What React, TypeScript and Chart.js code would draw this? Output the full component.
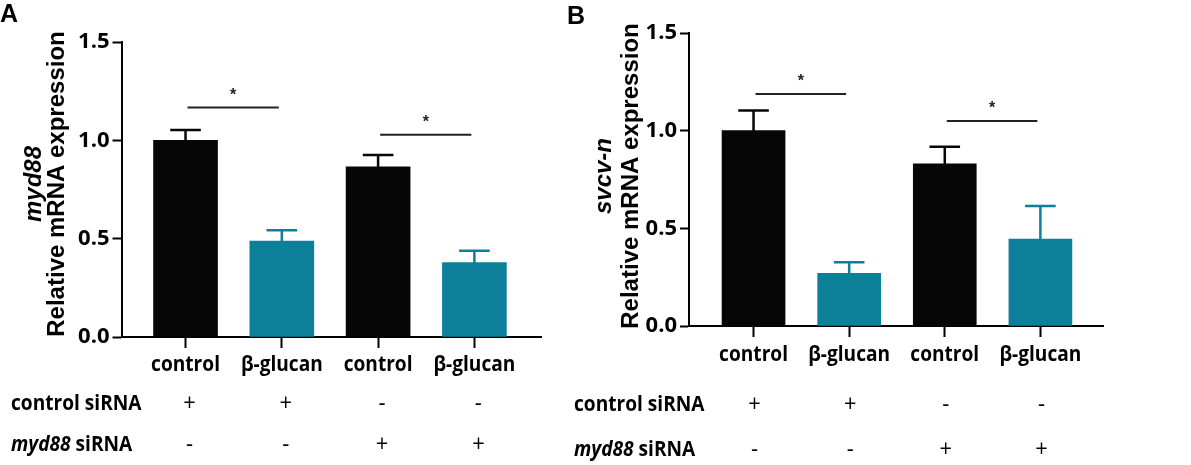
import React, { useEffect, useRef } from 'react';
import { Chart, registerables } from 'chart.js';

Chart.register(...registerables);

// shared labels
const categories = ['control', 'β-glucan', 'control', 'β-glucan'];
const controlSiRNA = ['+', '+', '-', '-'];
const myd88SiRNA = ['-', '-', '+', '+'];
const yTicks = [0, 0.5, 1.0, 1.5];
const barColors = ['#060606', '#0d8099', '#060606', '#0d8099'];

// panel A: myd88
const myd88Means = [1.0, 0.488, 0.865, 0.379];
const myd88Errors = [0.052, 0.055, 0.06, 0.06];
const myd88Sig = [[0, 1, 1.167], [2, 3, 1.029]];

// panel B: svcv-n
const svcvMeans = [1.0, 0.27, 0.83, 0.445];
const svcvErrors = [0.103, 0.056, 0.088, 0.169];
const svcvSig = [[0, 1, 1.188], [2, 3, 1.05]];

type PanelProps = {
  letter: string;
  gene: string;
  means: number[];
  errors: number[];
  sig: number[][];
  width: number;
  yAxisWidth: number;
  padTop: number;
  padRight: number;
  xAxisHeight: number;
  xMin: number;
  xMax: number;
  barThickness: number;
  titleOffset: number;
  geneOffset: number;
  titleY: number;
  catY: number;
  row1Y: number;
  row2Y: number;
  rowLabelX: number;
  symOffset: number;
  letterX: number;
  letterY: number;
};

const LABEL_FONT = '"Open Sans", Lato, sans-serif';
const TITLE_FONT = '"Liberation Sans", Arial, sans-serif';
const SQUEEZE = 0.91; // the figure is slightly narrower than tall

// draws text horizontally squeezed around its anchor
const squeezedText = (ctx: CanvasRenderingContext2D, text: string, x: number, y: number) => {
  ctx.save();
  ctx.translate(x, y);
  ctx.scale(SQUEEZE, 1);
  ctx.fillText(text, 0, 0);
  ctx.restore();
};

const Panel: React.FC<PanelProps> = (p) => {
  const canvasRef = useRef<HTMLCanvasElement>(null);

  useEffect(() => {
    if (!canvasRef.current) return;

    const overlay = {
      id: 'overlay',
      afterDatasetsDraw(chart: any) {
        const { ctx, scales } = chart;
        const x = scales.x;
        const y = scales.y;
        ctx.save();
        // error bars (upper only)
        p.means.forEach((m, i) => {
          const cx = x.getPixelForValue(i);
          const y0 = y.getPixelForValue(m);
          const y1 = y.getPixelForValue(m + p.errors[i]);
          ctx.strokeStyle = barColors[i];
          ctx.lineWidth = 2.5;
          ctx.beginPath();
          ctx.moveTo(cx, y0 + 2);
          ctx.lineTo(cx, y1);
          ctx.moveTo(cx - 15.3, y1);
          ctx.lineTo(cx + 15.3, y1);
          ctx.stroke();
        });
        // significance lines
        p.sig.forEach(([a, b, v]) => {
          const xa = x.getPixelForValue(a) + 2;
          const xb = x.getPixelForValue(b) - 3;
          const ly = y.getPixelForValue(v);
          ctx.strokeStyle = '#222';
          ctx.lineWidth = 2;
          ctx.beginPath();
          ctx.moveTo(xa, ly);
          ctx.lineTo(xb, ly);
          ctx.stroke();
          ctx.fillStyle = '#222';
          ctx.font = `bold 16px ${TITLE_FONT}`;
          ctx.textAlign = 'center';
          ctx.textBaseline = 'middle';
          ctx.fillText('*', (xa + xb) / 2, ly - 12);
        });
        ctx.restore();
      },
      afterDraw(chart: any) {
        const { ctx, chartArea, scales } = chart;
        const x = scales.x;
        ctx.save();
        ctx.fillStyle = '#000';

        // panel letter
        ctx.font = `bold 25px ${TITLE_FONT}`;
        ctx.textAlign = 'left';
        ctx.textBaseline = 'top';
        ctx.fillText(p.letter, p.letterX, p.letterY);

        // rotated y title
        ctx.save();
        ctx.translate(chartArea.left - p.titleOffset, p.titleY);
        ctx.rotate(-Math.PI / 2);
        ctx.textAlign = 'center';
        ctx.textBaseline = 'alphabetic';
        ctx.font = `bold 24px ${TITLE_FONT}`;
        ctx.fillText('Relative mRNA expression', 0, 0);
        ctx.restore();

        ctx.save();
        ctx.translate(chartArea.left - p.geneOffset, p.titleY);
        ctx.rotate(-Math.PI / 2);
        ctx.textAlign = 'center';
        ctx.textBaseline = 'alphabetic';
        ctx.font = `italic bold 24px ${TITLE_FONT}`;
        ctx.fillText(p.gene, 0, 0);
        ctx.restore();

        // category labels
        ctx.textBaseline = 'middle';
        ctx.textAlign = 'center';
        ctx.font = `bold 21px ${LABEL_FONT}`;
        categories.forEach((c, i) => {
          squeezedText(ctx, c, x.getPixelForValue(i), p.catY);
        });

        // treatment rows
        ctx.textAlign = 'left';
        ctx.font = `bold 21px ${LABEL_FONT}`;
        squeezedText(ctx, 'control siRNA', p.rowLabelX, p.row1Y);
        ctx.font = `italic bold 21px ${LABEL_FONT}`;
        squeezedText(ctx, 'myd88', p.rowLabelX, p.row2Y);
        const w = ctx.measureText('myd88').width * SQUEEZE;
        ctx.font = `bold 21px ${LABEL_FONT}`;
        squeezedText(ctx, ' siRNA', p.rowLabelX + w, p.row2Y);

        ctx.textAlign = 'center';
        ctx.font = `24px ${LABEL_FONT}`;
        controlSiRNA.forEach((s, i) => {
          squeezedText(ctx, s, x.getPixelForValue(i) + p.symOffset, p.row1Y);
        });
        myd88SiRNA.forEach((s, i) => {
          squeezedText(ctx, s, x.getPixelForValue(i) + p.symOffset, p.row2Y);
        });
        ctx.restore();
      },
    };

    const chart = new Chart(canvasRef.current, {
      type: 'bar',
      data: {
        datasets: [
          {
            data: p.means.map((m, i) => ({ x: i, y: m })),
            backgroundColor: barColors,
            borderWidth: 0,
            barThickness: p.barThickness,
          },
        ],
      },
      options: {
        responsive: false,
        animation: false,
        layout: { padding: { top: p.padTop, right: p.padRight, left: 0, bottom: 0 } },
        plugins: { legend: { display: false }, tooltip: { enabled: false } },
        scales: {
          x: {
            type: 'linear',
            offset: false,
            min: p.xMin,
            max: p.xMax,
            afterBuildTicks: (s: any) => {
              s.ticks = categories.map((_, i) => ({ value: i }));
            },
            afterFit: (s: any) => {
              s.height = p.xAxisHeight;
            },
            ticks: { display: false },
            grid: {
              offset: false,
              drawOnChartArea: false,
              drawTicks: true,
              tickLength: 11,
              tickWidth: 2,
              tickColor: '#000',
            },
            border: { display: true, color: '#000', width: 2 },
          },
          y: {
            min: 0,
            max: 1.5,
            afterBuildTicks: (s: any) => {
              s.ticks = yTicks.map((v) => ({ value: v }));
            },
            afterFit: (s: any) => {
              s.width = p.yAxisWidth;
            },
            ticks: {
              color: '#000',
              padding: 3,
              font: { family: LABEL_FONT, weight: 'bold', size: 22 },
              callback: (v: any) => Number(v).toFixed(1),
            },
            grid: { drawOnChartArea: false, drawTicks: true, tickLength: 9, tickWidth: 2, tickColor: '#000' },
            border: { display: true, color: '#000', width: 2 },
          },
        },
      } as any,
      plugins: [overlay],
    });

    return () => {
      chart.destroy();
    };
  }, []);

  return <canvas ref={canvasRef} width={p.width} height={465} style={{ display: 'block' }} />;
};

const App: React.FC = () => {
  return (
    <div
      style={{
        position: 'absolute',
        left: 0,
        top: 0,
        width: 1191,
        height: 465,
        background: '#fff',
        display: 'flex',
      }}
    >
      <Panel
        letter="A"
        gene="myd88"
        means={myd88Means}
        errors={myd88Errors}
        sig={myd88Sig}
        width={560}
        yAxisWidth={121.5}
        padTop={42}
        padRight={18.5}
        xAxisHeight={128}
        xMin={-0.665}
        xMax={3.697}
        barThickness={64}
        titleOffset={57.5}
        geneOffset={81}
        titleY={184}
        catY={365}
        row1Y={404}
        row2Y={445}
        rowLabelX={11}
        symOffset={4}
        letterX={0}
        letterY={3}
      />
      <Panel
        letter="B"
        gene="svcv-n"
        means={svcvMeans}
        errors={svcvErrors}
        sig={svcvSig}
        width={631}
        yAxisWidth={129}
        padTop={33}
        padRight={87.5}
        xAxisHeight={139}
        xMin={-0.675}
        xMax={3.66}
        barThickness={63}
        titleOffset={51}
        geneOffset={78}
        titleY={176}
        catY={355}
        row1Y={405}
        row2Y={450}
        rowLabelX={14}
        symOffset={1}
        letterX={7}
        letterY={5}
      />
    </div>
  );
};

export default App;
